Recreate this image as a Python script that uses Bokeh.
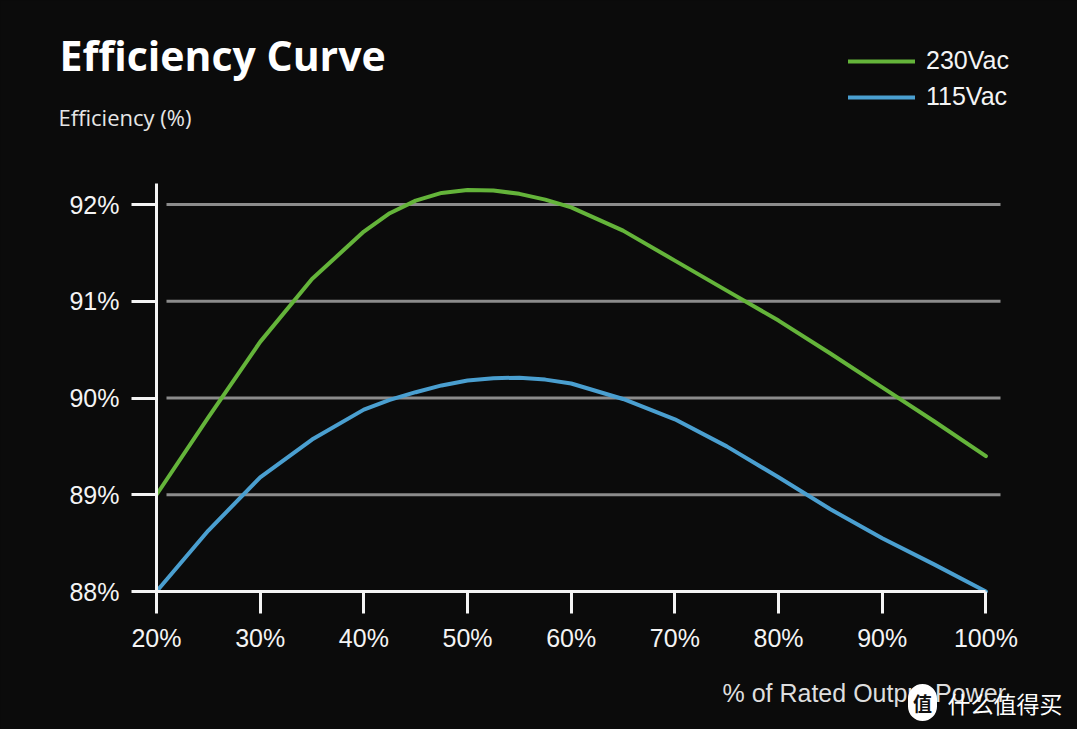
from jinja2 import Template
from bokeh.plotting import figure
from bokeh.models import (Range1d, FixedTicker, Label, Legend, LegendItem,
                          LinearAxis)
from bokeh.embed import file_html
from bokeh.resources import INLINE

# ---------------- data ----------------
load_pct = [20, 25, 30, 35, 40, 42.5, 45, 47.5, 50, 52.5, 55, 57.5, 60,
            65, 70, 75, 80, 85, 90, 95, 100]
eff_230 = [89.00, 89.80, 90.58, 91.23, 91.72, 91.91, 92.04, 92.12, 92.15,
           92.145, 92.11, 92.05, 91.97, 91.73, 91.42, 91.11, 90.80, 90.46,
           90.11, 89.76, 89.40]
eff_115 = [88.00, 88.63, 89.18, 89.57, 89.88, 89.98, 90.06, 90.13, 90.18,
           90.205, 90.21, 90.19, 90.15, 89.99, 89.78, 89.50, 89.18, 88.85,
           88.55, 88.28, 88.00]
series_names = ["230Vac", "115Vac"]

x_ticks = [20, 30, 40, 50, 60, 70, 80, 90, 100]
x_tick_labels = ["20%", "30%", "40%", "50%", "60%", "70%", "80%", "90%", "100%"]
y_ticks = [88, 89, 90, 91, 92]
y_tick_labels = ["88%", "89%", "90%", "91%", "92%"]
grid_levels = [89, 90, 91, 92]

title_text = "Efficiency Curve"
subtitle_text = "Efficiency (%)"
x_label_text = "% of Rated Output Power"
watermark_icon = "值"
watermark_text = "什么值得买"

# ---------------- styling / layout ----------------
BG = "#0b0b0b"
GREEN = "#64b43a"
BLUE = "#4a9fd0"
GRID = "#8c8c8c"
WHITE = "#f4f4f4"

W, H = 1077, 729          # figure fills the page (template has no margin)
PAGE_OFF = 0
# axis origin in page pixels and pixel scales
AX_X, AX_Y = 156, 591
PX_X = (985.4 - 156) / 80.0     # px per % load
PX_Y = 96.75                    # px per % efficiency

x_start = 20 - (AX_X - PAGE_OFF) / PX_X
x_end = 20 + (PAGE_OFF + W - AX_X) / PX_X
y_start = 88 - (PAGE_OFF + H - AX_Y) / PX_Y
y_end = 88 + (AX_Y - PAGE_OFF) / PX_Y
y_axis_top = 88 + (AX_Y - 183) / PX_Y
grid_x0 = 20 + 10 / PX_X
grid_x1 = 20 + (1000 - AX_X) / PX_X


def sx(px):
    return px - PAGE_OFF


def sy(py):
    return PAGE_OFF + H - py


p = figure(width=W, height=H, output_backend="svg", toolbar_location=None,
           x_range=Range1d(x_start, x_end), y_range=Range1d(y_start, y_end),
           x_axis_type=None, y_axis_type=None,
           min_border=0, min_border_left=0, min_border_right=0,
           min_border_top=0, min_border_bottom=0)
p.title = None
p.background_fill_color = BG
p.border_fill_color = BG
p.outline_line_color = None

# horizontal guide lines
p.segment(x0=[grid_x0] * len(grid_levels), x1=[grid_x1] * len(grid_levels),
          y0=grid_levels, y1=grid_levels, line_color=GRID, line_width=3)

r230 = p.line(load_pct, eff_230, line_color=GREEN, line_width=4,
              line_join="round", line_cap="round")
r115 = p.line(load_pct, eff_115, line_color=BLUE, line_width=4,
              line_join="round", line_cap="round")


def style_axis(ax):
    ax.axis_line_color = WHITE
    ax.axis_line_width = 3
    ax.major_tick_line_color = WHITE
    ax.major_tick_line_width = 3
    ax.major_tick_in = 0
    ax.minor_tick_line_color = None
    ax.major_label_text_color = WHITE
    ax.major_label_text_font = "Liberation Sans"
    ax.major_label_text_font_size = "25px"


xaxis = LinearAxis(fixed_location=88, bounds=(x_ticks[0], x_ticks[-1]),
                   ticker=FixedTicker(ticks=x_ticks),
                   major_label_overrides={t: l for t, l in zip(x_ticks, x_tick_labels)})
style_axis(xaxis)
xaxis.major_tick_out = 22
xaxis.major_label_standoff = 10
p.add_layout(xaxis, "below")

yaxis = LinearAxis(fixed_location=20, bounds=(y_ticks[0], y_axis_top),
                   ticker=FixedTicker(ticks=y_ticks),
                   major_label_overrides={t: l for t, l in zip(y_ticks, y_tick_labels)})
style_axis(yaxis)
yaxis.major_tick_out = 25
yaxis.major_label_standoff = 12
p.add_layout(yaxis, "left")

# legend (location is the legend's bottom-left corner)
ITEM_H, ITEM_GAP = 30, 6
legend_h = 2 * ITEM_H + ITEM_GAP
legend = Legend(items=[LegendItem(label=series_names[0], renderers=[r230]),
                       LegendItem(label=series_names[1], renderers=[r115])],
                location=(sx(848), sy(45.5 + legend_h)),
                orientation="vertical",
                background_fill_alpha=0, border_line_alpha=0,
                padding=0, margin=0, spacing=ITEM_GAP,
                glyph_width=67, glyph_height=ITEM_H, label_height=ITEM_H,
                label_standoff=11,
                label_text_color=WHITE, label_text_font="Liberation Sans",
                label_text_font_size="25px", label_text_baseline="middle")
p.add_layout(legend, "center")

# texts (vertical position = middle of the capitals)
p.add_layout(Label(x=sx(59), y=sy(54), x_units="screen", y_units="screen",
                   text=title_text, text_color="#ffffff", text_font="Open Sans",
                   text_font_style="bold", text_font_size="41px",
                   text_baseline="middle"))
p.add_layout(Label(x=sx(58), y=sy(116), x_units="screen", y_units="screen",
                   text=subtitle_text, text_color="#e6e6e6", text_font="Open Sans",
                   text_font_size="22px", text_baseline="middle"))
p.add_layout(Label(x=sx(722), y=sy(692), x_units="screen", y_units="screen",
                   text=x_label_text, text_color="#dedede",
                   text_font="Liberation Sans", text_font_size="25px",
                   text_baseline="middle"))

# watermark
p.add_layout(Label(x=sx(922), y=sy(702), x_units="screen", y_units="screen",
                   text=watermark_icon, text_color="#111111",
                   text_font="Noto Sans CJK SC", text_font_size="19px",
                   text_font_style="bold",
                   text_align="center", text_baseline="middle",
                   background_fill_color="#ffffff", border_radius=15,
                   padding=5))
p.add_layout(Label(x=sx(947), y=sy(702), x_units="screen", y_units="screen",
                   text=watermark_text, text_color="#ffffff",
                   text_font="Noto Sans CJK SC", text_font_size="23px",
                   text_align="left", text_baseline="middle"))

template = Template("""{% extends base %}
{% block preamble %}<style>html, body { background: #0b0b0b; }</style>{% endblock %}""")

open("out.html", "w").write(file_html(p, INLINE, template=template))
